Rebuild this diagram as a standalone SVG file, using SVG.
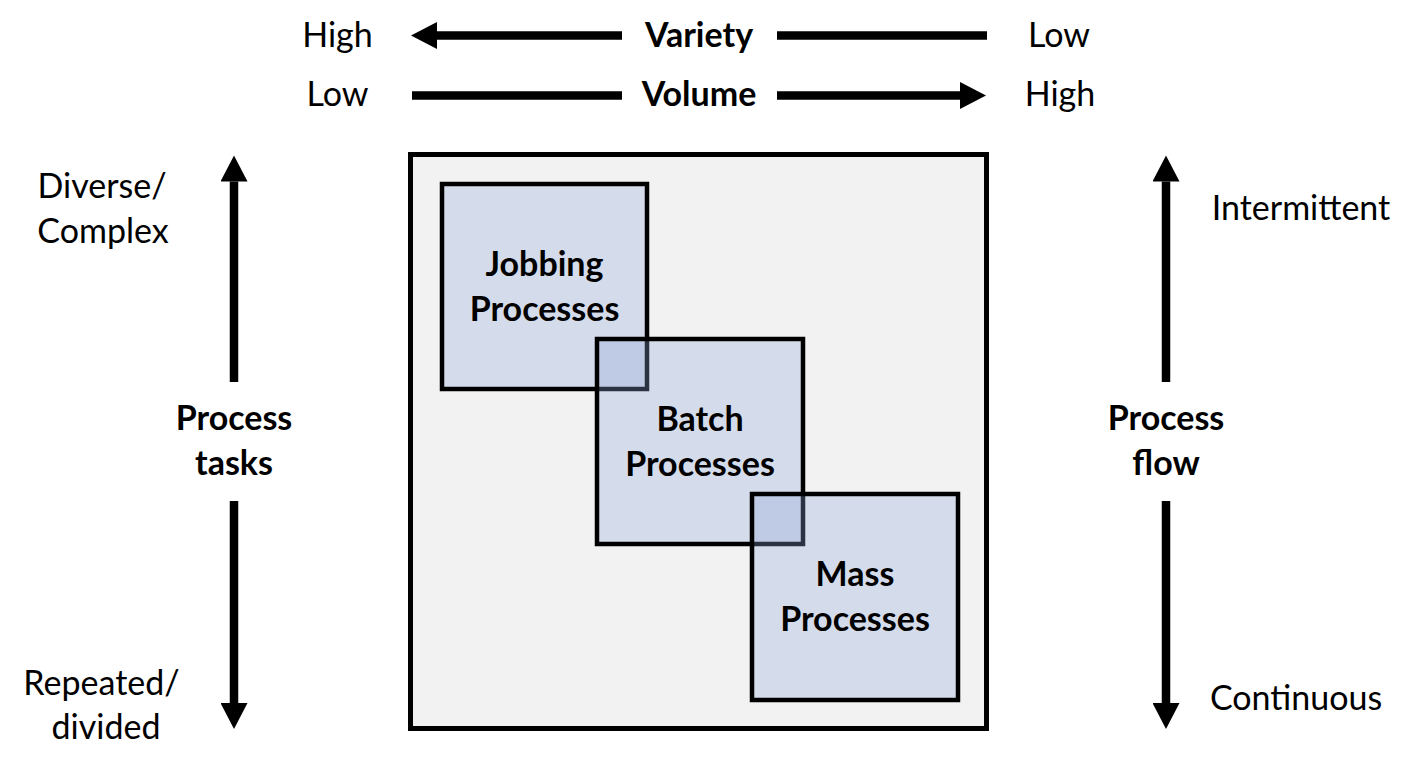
<svg xmlns="http://www.w3.org/2000/svg" width="1417" height="773" viewBox="0 0 1417 773">
<defs>
<style>
text{font-family:Lato,"Open Sans","Liberation Sans",sans-serif;font-size:34px;fill:#000;text-anchor:middle}
.b{font-weight:bold}
.box{fill:#8FA5D8;fill-opacity:0.3;stroke:#000;stroke-width:4.5}
.ar{stroke:#000;stroke-width:8.5;fill:none}
</style>
<marker id="ah" markerUnits="userSpaceOnUse" markerWidth="27" markerHeight="27" refX="0" refY="13.5" orient="auto" viewBox="0 0 27 27">
<path d="M0,0 L26,13.5 L0,27 z" fill="#000"/>
</marker>
</defs>
<rect width="1417" height="773" fill="#fff"/>
<g id="frame">
<rect x="410.5" y="154.5" width="576" height="574" fill="#F2F2F2" stroke="#000" stroke-width="5"/>
</g>
<g id="jobbing">
<rect class="box" x="442" y="184" width="205" height="205"/>
<text class="b" x="544.5" y="276">Jobbing</text>
<text class="b" x="544.5" y="321">Processes</text>
</g>
<g id="batch">
<rect class="box" x="597" y="339" width="206" height="205"/>
<text class="b" x="700" y="431">Batch</text>
<text class="b" x="700" y="476">Processes</text>
</g>
<g id="mass">
<rect class="box" x="752" y="494" width="206" height="206"/>
<text class="b" x="855" y="586">Mass</text>
<text class="b" x="855" y="631">Processes</text>
</g>
<g id="connectors">
<line class="ar" x1="622" y1="35.5" x2="437" y2="35.5" marker-end="url(#ah)"/>
<line class="ar" x1="777" y1="35.5" x2="987" y2="35.5"/>
<line class="ar" x1="412" y1="95.5" x2="622" y2="95.5"/>
<line class="ar" x1="777" y1="95.5" x2="960" y2="95.5" marker-end="url(#ah)"/>
<line class="ar" x1="234" y1="382" x2="234" y2="181.5" marker-end="url(#ah)"/>
<line class="ar" x1="234" y1="501" x2="234" y2="703" marker-end="url(#ah)"/>
<line class="ar" x1="1166" y1="382" x2="1166" y2="181.5" marker-end="url(#ah)"/>
<line class="ar" x1="1166" y1="501" x2="1166" y2="703" marker-end="url(#ah)"/>
</g>
<g id="variety">
<text x="337.5" y="47">High</text>
<text class="b" x="699" y="47">Variety</text>
<text x="1059" y="47">Low</text>
</g>
<g id="volume">
<text x="337.5" y="106">Low</text>
<text class="b" x="699" y="106">Volume</text>
<text x="1060" y="106">High</text>
</g>
<g id="process-tasks">
<text x="102" y="198">Diverse/</text>
<text x="103" y="243">Complex</text>
<text class="b" x="234" y="430">Process</text>
<text class="b" x="234" y="475">tasks</text>
<text x="101.5" y="695">Repeated/</text>
<text x="106" y="739">divided</text>
</g>
<g id="process-flow">
<text x="1301" y="220">Intermittent</text>
<text class="b" x="1166" y="430">Process</text>
<text class="b" x="1166" y="475">flow</text>
<text x="1296" y="710">Continuous</text>
</g>
</svg>
